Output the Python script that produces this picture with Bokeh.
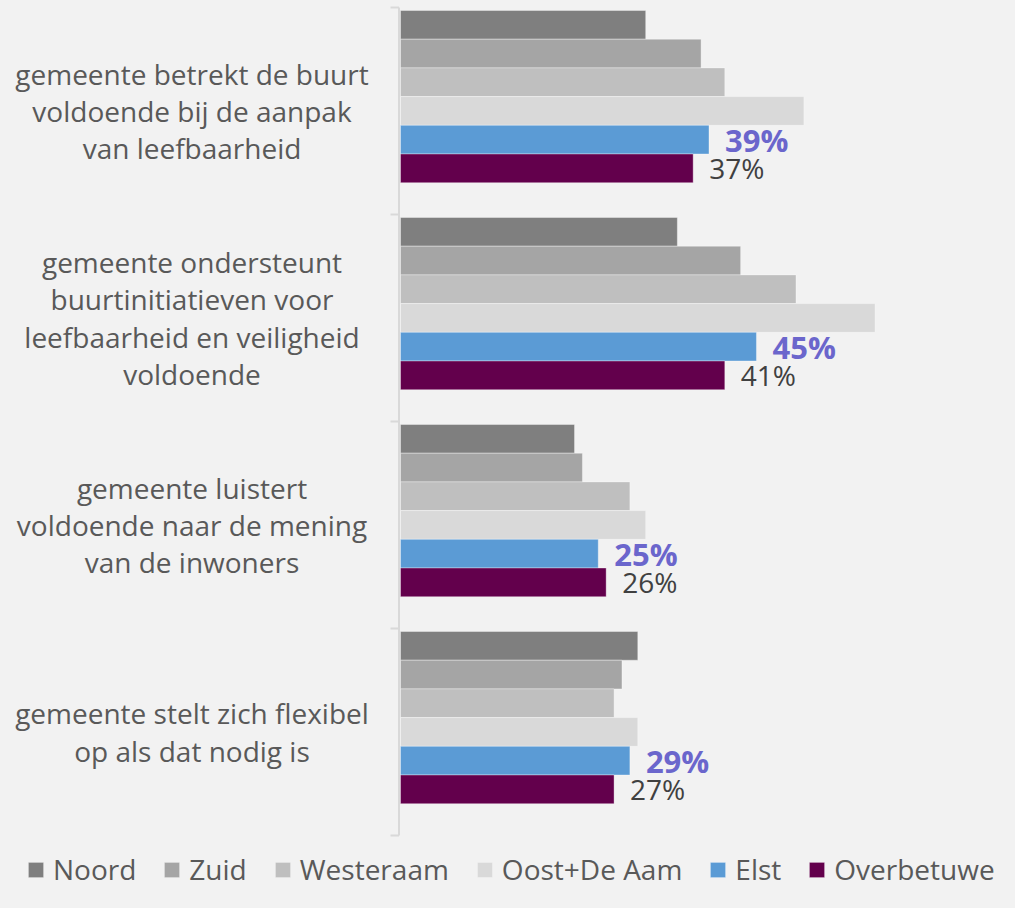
from bokeh.plotting import figure
from bokeh.models import Range1d, Legend, LegendItem
from bokeh.core.properties import value
from bokeh.embed import file_html
from bokeh.resources import INLINE

# ---------------- data ----------------
categories = [
    "gemeente betrekt de buurt\nvoldoende bij de aanpak\nvan leefbaarheid",
    "gemeente ondersteunt\nbuurtinitiatieven voor\nleefbaarheid en veiligheid\nvoldoende",
    "gemeente luistert\nvoldoende naar de mening\nvan de inwoners",
    "gemeente stelt zich flexibel\nop als dat nodig is",
]
series = ["Noord", "Zuid", "Westeraam", "Oost+De Aam", "Elst", "Overbetuwe"]
noord = [31, 35, 22, 30]
zuid = [38, 43, 23, 28]
westeraam = [41, 50, 29, 27]
oost_de_aam = [51, 60, 31, 30]
elst = [39, 45, 25, 29]
overbetuwe = [37, 41, 26, 27]
values = [noord, zuid, westeraam, oost_de_aam, elst, overbetuwe]

colors = ["#7f7f7f", "#a5a5a5", "#bfbfbf", "#d9d9d9", "#5b9bd5", "#63004c"]

# ---------------- layout (pixels) ----------------
W, H = 999, 892
X0_PX = 400.0        # figure px where value 0 sits
PX_PER = 7.91        # px per percent
Y0_PX = 7.0          # figure px of first category boundary
CAT_PX = 207.0       # px per category
BAR_PX = 28.7
BAR_OFF_PX = 3.0
FONT = "Open Sans"
BG = "#f2f2f2"

px = 1.0 / PX_PER    # one pixel in x data units

p = figure(
    width=W, height=H,
    x_range=Range1d(-X0_PX / PX_PER, (W - X0_PX) / PX_PER),
    y_range=Range1d((H - Y0_PX) / CAT_PX, (0 - Y0_PX) / CAT_PX),
    output_backend="svg", toolbar_location=None,
    x_axis_type=None, y_axis_type=None,
    min_border=0,
)
p.background_fill_color = BG
p.border_fill_color = BG
p.outline_line_color = None
p.xgrid.visible = False
p.ygrid.visible = False

n = len(categories)
bar_h = BAR_PX / CAT_PX
bar_off = BAR_OFF_PX / CAT_PX

# axis line and ticks
p.segment(x0=[-1.5 * px], x1=[-1.5 * px], y0=[0], y1=[n], line_color="#d9d9d9", line_width=2)
p.segment(x0=[-10 * px] * (n + 1), x1=[-1.5 * px] * (n + 1), y0=list(range(n + 1)),
          y1=list(range(n + 1)), line_color="#d9d9d9", line_width=2)

items = []
for i, (name, vals, col) in enumerate(zip(series, values, colors)):
    ys = [c + bar_off + (i + 0.5) * bar_h for c in range(n)]
    r = p.hbar(y=ys, left=0, right=vals, height=bar_h, fill_color=col,
               line_color="white", line_alpha=0.35, line_width=1)
    items.append(LegendItem(label=name, renderers=[r]))
    if name == "Elst":
        p.text(x=vals, y=ys, text=[f"{v}%" for v in vals], x_offset=16,
               text_align="left", text_baseline="middle",
               text_font=value(FONT), text_font_size="31px", text_font_style="bold",
               text_color="#6b66cc")
    elif name == "Overbetuwe":
        p.text(x=vals, y=ys, text=[f"{v}%" for v in vals], x_offset=16,
               text_align="left", text_baseline="middle",
               text_font=value(FONT), text_font_size="28px",
               text_color="#404040")

# category labels
label_cx = (191.5 - X0_PX) / PX_PER
p.text(x=[label_cx] * n, y=[c + 0.5 for c in range(n)], text=categories,
       text_align="center", text_baseline="middle", text_line_height=0.98,
       text_font=value(FONT), text_font_size="28px", text_color="#595959")

legend = Legend(
    items=items, orientation="horizontal", location=(26, 4),
    glyph_width=19, glyph_height=19, label_standoff=8, spacing=26,
    padding=0, margin=0, background_fill_alpha=0, border_line_alpha=0,
    label_text_font=FONT, label_text_font_size="28px", label_text_color="#595959",
)
p.add_layout(legend)

html = file_html(p, INLINE)
html = html.replace("</head>", "<style>html,body{background-color:#f2f2f2;}</style></head>", 1)
open("out.html", "w").write(html)
